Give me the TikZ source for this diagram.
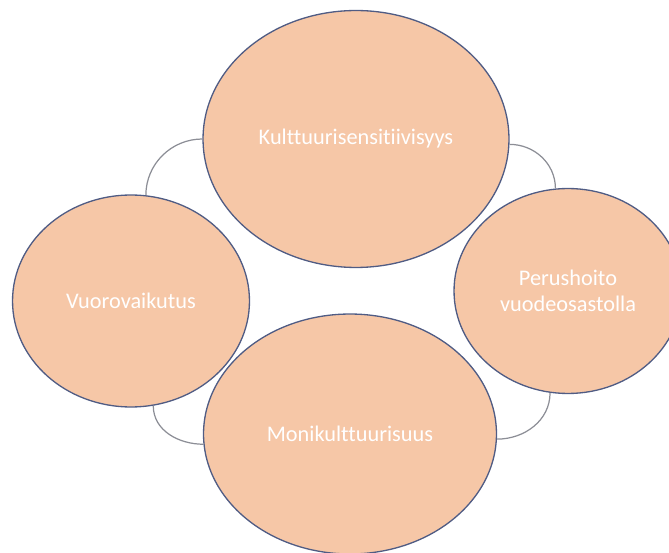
\documentclass[tikz,border=0pt]{standalone}
\usepackage{fontspec}
\setmainfont{Carlito}[Ligatures=NoCommon]
\usetikzlibrary{shapes.geometric}
\definecolor{peach}{HTML}{F6C7A7}
\definecolor{rim}{HTML}{505C84}
\definecolor{link}{HTML}{8C8E96}
\begin{document}
\begin{tikzpicture}[x=0.02cm,y=-0.02cm,
  bubble/.style={ellipse,draw=rim,line width=0.75pt,fill=peach,inner sep=0pt,
    text=white,align=center,font=\fontsize{12.7}{14.7}\selectfont},
  link/.style={draw=link,line width=0.7pt}]

% Frame of the picture
\useasboundingbox (0,0) rectangle (669,553);

% The four bubbles
\node [bubble,minimum width=6.12cm,minimum height=5.14cm] (sens) at (356,139) {Kulttuurisensitiivisyys};
\node [bubble,minimum width=4.74cm,minimum height=4.24cm] (vuoro) at (131,301) {Vuorovaikutus};
\node [bubble,minimum width=4.56cm,minimum height=4.10cm] (perus) at (568,291) {Perushoito\\vuodeosastolla};
\node [bubble,minimum width=5.86cm,minimum height=4.80cm] (moni) at (350,434) {Monikulttuurisuus};

% Arcs between neighbouring bubbles
\draw [link] (sens.west) to[out=180,in=90] (vuoro.82);
\draw [link] (sens.-2) to[out=0,in=90] (perus.97);
\draw [link] (vuoro.-78) to[out=270,in=180] (moni.184);
\draw [link] (perus.-100) to[out=270,in=0] (moni.-2);
\end{tikzpicture}
\end{document}
